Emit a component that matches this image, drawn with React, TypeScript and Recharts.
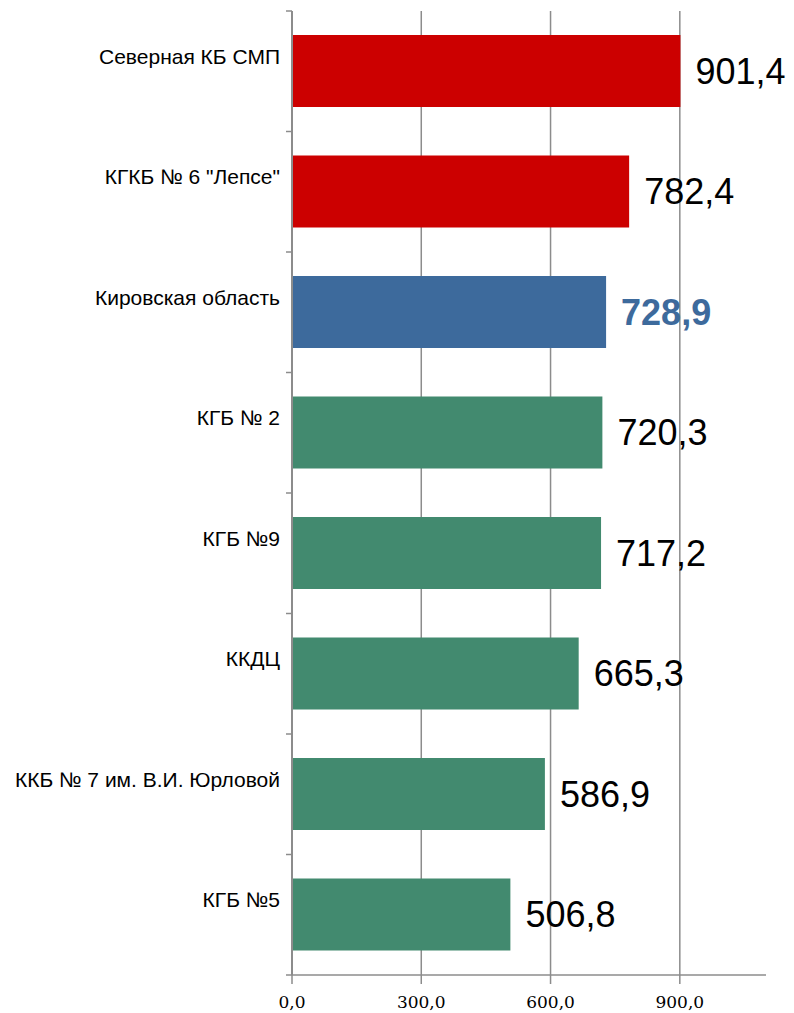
import React from "react";
import { BarChart, Bar, Cell, XAxis, YAxis, CartesianGrid, LabelList } from "recharts";

const categories = [
  "Северная КБ СМП",
  "КГКБ № 6 \"Лепсе\"",
  "Кировская область",
  "КГБ № 2",
  "КГБ №9",
  "ККДЦ",
  "ККБ № 7 им. В.И. Юрловой",
  "КГБ №5",
];
const values = [901.4, 782.4, 728.9, 720.3, 717.2, 665.3, 586.9, 506.8];
const groups = ["hospital", "hospital", "region", "other", "other", "other", "other", "other"];
const xTicks = [0, 300, 600, 900];
const gridValues = [300, 600, 900];

const groupColor: any = { hospital: "#cc0000", region: "#3d6a9c", other: "#428a6f" };

const data = categories.map((name, i) => ({ name, value: values[i], group: groups[i] }));

const BAND = 120.5;
const AXIS_GRAY = "#8c8c8c";

const fmt = (v: number) => v.toFixed(1).replace(".", ",");

const CategoryTick = (props: any) => {
  const { x, y, payload, index } = props;
  return (
    <g>
      <line x1={x - 6} x2={x} y1={y - BAND / 2} y2={y - BAND / 2} stroke={AXIS_GRAY} strokeWidth={1.5} />
      {index === categories.length - 1 && (
        <line x1={x - 6} x2={x} y1={y + BAND / 2} y2={y + BAND / 2} stroke={AXIS_GRAY} strokeWidth={1.5} />
      )}
      <text
        x={x - 12}
        y={y - 15}
        dy="0.355em"
        textAnchor="end"
        fontFamily="'Liberation Sans', Arial, sans-serif"
        fontSize={21}
        fill="#000"
      >
        {payload.value}
      </text>
    </g>
  );
};

const ValueLabel = (props: any) => {
  const { x, y, width, height, value, index } = props;
  const isRegion = groups[index] === "region";
  return (
    <text
      x={x + width + 15}
      y={y + height / 2}
      dy="0.355em"
      textAnchor="start"
      fontFamily="'Liberation Sans', Arial, sans-serif"
      fontSize={36}
      fontWeight={isRegion ? "bold" : "normal"}
      fill={isRegion ? groupColor.region : "#000"}
    >
      {fmt(value)}
    </text>
  );
};

const App = () => {
  return (
    <div style={{ position: "absolute", left: 0, top: 0, background: "#fff" }}>
      <BarChart
        width={794}
        height={1013}
        data={data}
        layout="vertical"
        barCategoryGap="20%"
        margin={{ top: 11, right: 28, left: 0, bottom: 0 }}
      >
        <CartesianGrid
          horizontal={false}
          vertical={true}
          verticalValues={gridValues}
          stroke={AXIS_GRAY}
          strokeWidth={1.5}
        />
        <XAxis
          type="number"
          domain={[0, 1100]}
          ticks={xTicks}
          tickFormatter={fmt}
          height={38}
          tickSize={9}
          tickMargin={12}
          axisLine={{ stroke: AXIS_GRAY, strokeWidth: 1.5 }}
          tickLine={{ stroke: AXIS_GRAY, strokeWidth: 1.5 }}
          tick={{ fill: "#000", fontSize: 17, fontFamily: "'DejaVu Serif', serif" }}
          interval={0}
        />
        <YAxis
          type="category"
          dataKey="name"
          width={292}
          tickSize={0}
          tickMargin={0}
          tickLine={false}
          axisLine={{ stroke: AXIS_GRAY, strokeWidth: 2 }}
          tick={<CategoryTick />}
          interval={0}
        />
        <Bar dataKey="value" isAnimationActive={false}>
          {data.map((d, i) => (
            <Cell key={`cell-${i}`} fill={groupColor[d.group]} />
          ))}
          <LabelList dataKey="value" content={<ValueLabel />} />
        </Bar>
      </BarChart>
    </div>
  );
};

export default App;
